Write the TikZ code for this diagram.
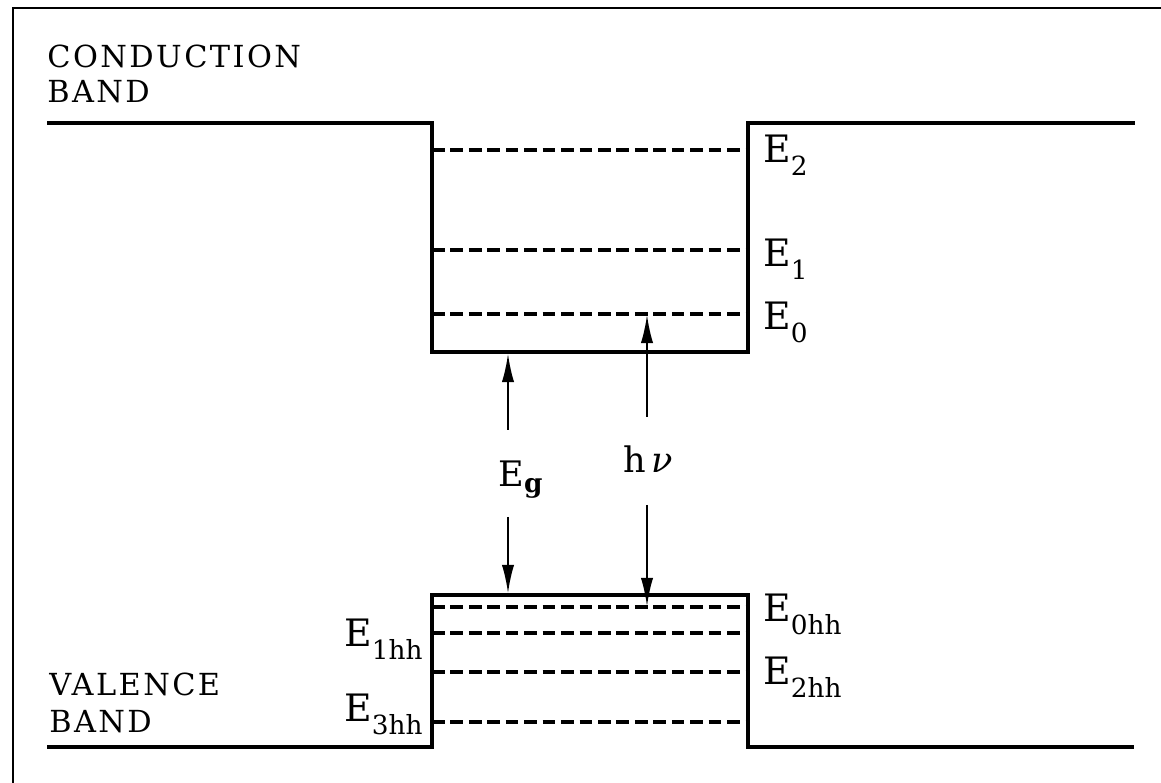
\documentclass[tikz,border=0pt]{standalone}
\usepackage{fontspec}
\setmainfont{DejaVu Serif}
\usepackage{tikz}
\usetikzlibrary{arrows.meta}
\tikzset{
  bandline/.style={line width=2.3pt, line join=miter},
  levelline/.style={line width=2.1pt, dash pattern=on 7.2pt off 3.3pt},
  framerule/.style={line width=1.2pt},
  gaparrow/.style={-{Latex[length=16pt,width=7pt]}, line width=1pt},
  bandlabel/.style={inner sep=0pt, align=left, anchor=base west},
  levellabel/.style={inner sep=0pt, font=\fontsize{21.5}{25}\selectfont},
  arrowlabel/.style={inner sep=0pt, anchor=base west, font=\fontsize{20}{24}\selectfont}
}
\newcommand{\lvl}[1]{E\raisebox{-7pt}{\fontsize{15}{15}\selectfont #1}}

\begin{document}
\begin{tikzpicture}[x=0.02cm, y=-0.02cm]
  \useasboundingbox (0,0) rectangle (1161,783);
  % frame
  \draw[framerule] (1161,8) -- (13,8) -- (13,783);
  % band edges
  \draw[bandline] (47,123) -- (432,123) -- (432,352) -- (748,352) -- (748,123) -- (1135,123);
  \draw[bandline] (47,747) -- (432,747) -- (432,595) -- (748,595) -- (748,747) -- (1134,747);
  % confined levels
  \draw[levelline] (432,150) -- (748,150);
  \draw[levelline] (432,250) -- (748,250);
  \draw[levelline] (432,314) -- (748,314);
  \draw[levelline] (432,607) -- (748,607);
  \draw[levelline] (432,633) -- (748,633);
  \draw[levelline] (432,672) -- (748,672);
  \draw[levelline] (432,722) -- (748,722);
  % band names
  \node[bandlabel, font=\fontsize{17.3}{20}\selectfont\addfontfeatures{LetterSpace=8}] (cband) at (47,103) {CONDUCTION\\BAND};
  \node[bandlabel, font=\fontsize{17.3}{21.5}\selectfont\addfontfeatures{LetterSpace=8}] (vband) at (49,733) {VALENCE\\BAND};
  % level names
  \node[levellabel, anchor=base west] (e2) at (763,163) {\lvl{2}};
  \node[levellabel, anchor=base west] (e1) at (763,267) {\lvl{1}};
  \node[levellabel, anchor=base west] (e0) at (763,330) {\lvl{0}};
  \node[levellabel, anchor=base west] (e0hh) at (763,622) {\lvl{0hh}};
  \node[levellabel, anchor=base west] (e2hh) at (763,685) {\lvl{2hh}};
  \node[levellabel, anchor=base east] (e1hh) at (423,647) {\lvl{1hh}};
  \node[levellabel, anchor=base east] (e3hh) at (423,722) {\lvl{3hh}};
  % gap and photon
  \node[arrowlabel] (eg) at (498,487) {E\raisebox{-3pt}{\fontsize{15}{15}\selectfont\bfseries g}};
  \node[arrowlabel] (hv) at (623,473) {h\,\textit{ν}};
  \coordinate (egtop) at (508,430);
  \coordinate (egbot) at (508,517);
  \coordinate (hvtop) at (647,417);
  \coordinate (hvbot) at (647,505);
  \coordinate (wellfloor) at (508,354);
  \coordinate (vbtop) at (508,593);
  \coordinate (elev0) at (647,315);
  \coordinate (hlev0) at (647,606);
  \draw[gaparrow] (egtop) -- (wellfloor);
  \draw[gaparrow] (egbot) -- (vbtop);
  \draw[gaparrow] (hvtop) -- (elev0);
  \draw[gaparrow] (hvbot) -- (hlev0);
\end{tikzpicture}
\end{document}
